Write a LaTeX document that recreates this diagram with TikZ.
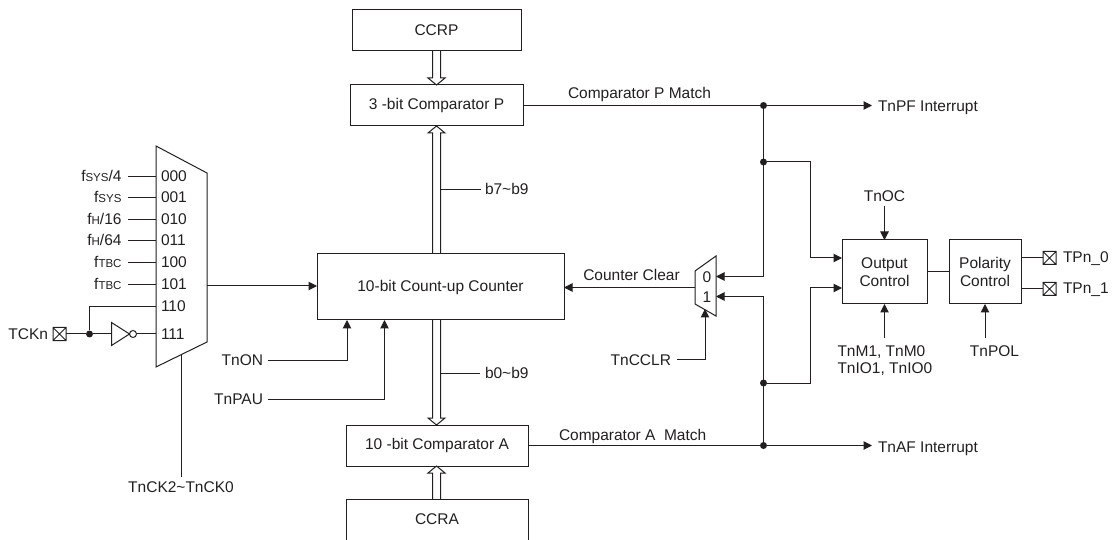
\documentclass[tikz,border=0pt]{standalone}
\usepackage{fontspec}
\setmainfont{Liberation Sans}
\usetikzlibrary{arrows.meta,calc}
\definecolor{ink}{HTML}{231F20}
\newcommand\smallsub[1]{{\fontsize{11.5}{11.5}\selectfont #1}}
\newcommand\hollowarrow[3]{\draw[hollow] ($(#1)+(-4,0)$) -- ($(#2)+(-4,#3*7)$) -- ($(#2)+(-8.5,#3*7)$) -- (#2) -- ($(#2)+(8.5,#3*7)$) -- ($(#2)+(4,#3*7)$) -- ($(#1)+(4,0)$);}
\newcommand\padbox[1]{\draw[wire] (#1) rectangle +(13,13) (#1) -- +(13,13) ($(#1)+(13,0)$) -- +(-13,13);}
\tikzset{
  x=1pt,y=-1pt,
  every node/.style={inner sep=0pt,outer sep=0pt,text=ink,font=\fontsize{15.5}{17.5}\selectfont},
  wire/.style={draw=ink,line width=1pt},
  arr/.style={wire,-{Triangle[length=8.5pt,width=8.5pt,fill=ink]}},
  hollow/.style={draw=ink,line width=1pt,line join=miter},
  blockbox/.style={draw=ink,line width=1pt},
  dot/.style={circle,fill=ink,draw=none,minimum size=7pt},
  lab/.style={anchor=base},
  labr/.style={anchor=base east},
  labl/.style={anchor=base west},
}
\begin{document}
\begin{tikzpicture}
\useasboundingbox (0,0) rectangle (1112,540);
% blocks
\node[blockbox,minimum width=169pt,minimum height=41pt] (ccrp) at (436.5,30.5) {CCRP};
\node[blockbox,minimum width=173pt,minimum height=41pt] (cmpp) at (436.5,105.5) {3 -bit Comparator P};
\node[blockbox,minimum width=247pt,minimum height=66pt] (cnt) at (440.5,287) {10-bit Count-up Counter};
\node[blockbox,minimum width=182pt,minimum height=41pt] (cmpa) at (437,445.5) {10 -bit Comparator A};
\node[minimum width=182pt,minimum height=41pt] (ccra) at (437,519.5) {CCRA};
\draw[wire] (ccra.south west) -- (ccra.north west) -- (ccra.north east) -- (ccra.south east);
\node[blockbox,minimum width=85pt,minimum height=64pt,align=center] (oc) at (884.5,272) {Output\\Control};
\node[blockbox,minimum width=72pt,minimum height=64pt,align=center] (pc) at (985,272) {Polarity\\Control};
% hollow buses
\coordinate (xb) at (436.5,0);
\hollowarrow{ccrp.south -| xb}{cmpp.north -| xb}{-1}
\hollowarrow{cnt.north -| xb}{cmpp.south -| xb}{1}
\hollowarrow{cnt.south -| xb}{cmpa.north -| xb}{-1}
\hollowarrow{ccra.north -| xb}{cmpa.south -| xb}{1}
\node[labl] (b79) at (485,194.5) {b7\textasciitilde b9};
\node[labl] (b09) at (485,378) {b0\textasciitilde b9};
\draw[wire] (440.5,190) -- (481,190);
\draw[wire] (440.5,373.5) -- (480,373.5);
% clock mux
\draw[wire] (156,146) -- (207,173) -- (207,342) -- (156,367) -- cycle;
\coordinate (mo) at (207,286);
\foreach \nm/\y/\t in {a/177/000,b/198/001,c/220/010,d/241/011,e/263/100,f/285/101,g/307/110,h/334/111}{
  \node[labl] (s\nm) at (161,\y+5) {\t};
  \coordinate (i\nm) at (156,\y);
}
\foreach \nm/\y/\t in {a/177/{f\smallsub{SYS}/4},b/198/{f\smallsub{SYS}},c/220/{f\smallsub{H}/16},d/241/{f\smallsub{H}/64},e/263/{f\smallsub{TBC}},f/285/{f\smallsub{TBC}}}{
  \node[labr] (l\nm) at (121.5,\y+5) {\t};
  \draw[wire] (128,\y) -- (i\nm);
}
% TCKn
\node[labr] (tckn) at (48,339.5) {TCKn};
\coordinate (padt) at (53,327.5);
\padbox{padt}
\node[dot] (j0) at (89.5,334) {};
\draw[wire] (66,334) -- (j0);
\draw[wire] (j0) -- (89.5,307) -- (ig);
\coordinate (invl) at (111.5,334);
\draw[wire] (111.5,322.5) -- (129.5,334) -- (111.5,345.5) -- cycle;
\node[circle,draw=ink,line width=1pt,minimum size=7pt] (bub) at (133,334) {};
\draw[wire] (j0) -- (invl);
\draw[wire] (bub) -- (ih);
\draw[arr] (mo) -- (cnt.west |- mo);
\node[lab] (tck20) at (181,492.5) {TnCK2\textasciitilde TnCK0};
\draw[wire] (181,354.5) -- (181,477);
% TnON, TnPAU
\node[labr] (tnon) at (263,366) {TnON};
\node[labr] (tnpau) at (263,404.5) {TnPAU};
\coordinate (onc) at (347,360);
\coordinate (pauc) at (384.5,399.5);
\draw[arr] (268,360) -- (onc) -- (cnt.south -| onc);
\draw[arr] (268,399.5) -- (pauc) -- (cnt.south -| pauc);
% right-hand network
\node[dot] (jp) at (763.5,105.5) {};
\node[dot] (jq) at (763.5,162) {};
\node[dot] (jr) at (763.5,383) {};
\node[dot] (ja) at (763.5,445.5) {};
\node[labl] (pint) at (878,112) {TnPF Interrupt};
\node[labl] (aint) at (878,452) {TnAF Interrupt};
\coordinate (ptip) at (872,105.5);
\coordinate (atip) at (872,445.5);
\node[labl] (pmatch) at (568,98.5) {Comparator P Match};
\node[labl] (amatch) at (559,440) {Comparator A\ \ Match};
\draw[wire] (cmpp.east) -- (jp);
\draw[arr] (jp) -- (ptip);
\draw[wire] (cmpa.east) -- (ja);
\draw[arr] (ja) -- (atip);
% counter-clear mux
\draw[wire] (695,271) -- (716,256) -- (716,316) -- (695,304) -- cycle;
\node[lab] (m0) at (707,282.5) {0};
\node[lab] (m1) at (707,302) {1};
\coordinate (m0i) at (716,276.5);
\coordinate (m1i) at (716,296.5);
\draw[arr] (jp) -- (763.5,276.5) -- (m0i);
\draw[arr] (ja) -- (763.5,296.5) -- (m1i);
\coordinate (oca) at (842,258);
\coordinate (ocb) at (842,288);
\draw[arr] (jq) -- (810,162) -- (810,258) -- (oca);
\draw[arr] (jr) -- (810,383) -- (810,288) -- (ocb);
\coordinate (mq) at (695,287.5);
\draw[arr] (mq) -- (cnt.east |- mq);
\node[lab] (cclr) at (631.5,281) {Counter Clear};
\node[labr] (tncclr) at (671,365) {TnCCLR};
\draw[arr] (677,359) -- (705,359) -- (705,309);
% output side
\node[lab] (tnoc) at (884.5,202) {TnOC};
\node[labl] (tnm) at (837.5,356) {TnM1, TnM0};
\node[labl] (tnio) at (837.5,373.5) {TnIO1, TnIO0};
\node[lab] (tnpol) at (994.5,356) {TnPOL};
\draw[arr] (884.5,206) -- (oc.north);
\draw[arr] (884.5,338) -- (oc.south);
\draw[arr] (985,338) -- (pc.south);
\draw[wire] (oc.east) -- (pc.west);
\coordinate (pad0) at (1043,251.5);
\coordinate (pad1) at (1043,282.5);
\padbox{pad0}
\padbox{pad1}
\draw[wire] (pc.east |- pad0) ++(0,6.5) -- ++(22,0);
\draw[wire] (pc.east |- pad1) ++(0,6.5) -- ++(22,0);
\node[labl] (tp0) at (1063,263) {TPn\_0};
\node[labl] (tp1) at (1063,294) {TPn\_1};
\end{tikzpicture}
\end{document}
